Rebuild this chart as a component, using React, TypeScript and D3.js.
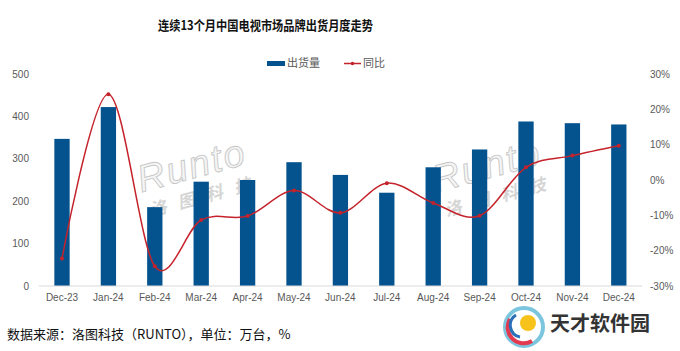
import * as d3 from 'd3';
import React from 'react';

const months = ['Dec-23', 'Jan-24', 'Feb-24', 'Mar-24', 'Apr-24', 'May-24', 'Jun-24', 'Jul-24', 'Aug-24', 'Sep-24', 'Oct-24', 'Nov-24', 'Dec-24'];
const shipments = [347, 422, 186, 246, 250, 292, 262, 220, 280, 322, 388, 384, 381];
const yoy = [-22.2, 24.3, -24.4, -11.3, -10.2, -3.0, -9.3, -0.9, -6.5, -10.1, 3.6, 6.9, 9.7];
const leftTicks = [0, 100, 200, 300, 400, 500];
const rightTicks = [-30, -20, -10, 0, 10, 20, 30];

const W = 680;
const H = 351;
const margin = { top: 74, right: 38, bottom: 65, left: 38.8 };

const barColor = '#04538e';
const lineColor = '#c5232b';
const axisFont = '"Liberation Sans", Arial, sans-serif';
const cjkFont = '"Noto Sans CJK SC", sans-serif';

const App = () => {
  const x = d3
    .scaleBand()
    .domain(months)
    .range([margin.left, W - margin.right]);
  const yLeft = d3
    .scaleLinear()
    .domain([0, 500])
    .range([H - margin.bottom, margin.top]);
  const yRight = d3
    .scaleLinear()
    .domain([-30, 30])
    .range([H - margin.bottom, margin.top]);

  const barW = x.bandwidth() * 0.33;
  const cx = (m: string) => (x(m) as number) + x.bandwidth() / 2;

  // excel style smooth line
  const line = d3
    .line<number>()
    .x((d, i) => cx(months[i]))
    .y(d => yRight(d))
    .curve(d3.curveCardinal.tension(0));

  const baseY = yLeft(0);

  return (
    <svg width={W} height={H} style={{ position: 'absolute', left: 0, top: 0, background: '#fff' }}>
      <text x={158} y={30} textLength={215} lengthAdjust="spacingAndGlyphs" fontFamily={cjkFont}
        fontWeight="bold" fontSize={13} fill="#111">
        连续13个月中国电视市场品牌出货月度走势
      </text>

      {/* legend */}
      <g fontFamily={cjkFont} fontSize={11} fill="#595959">
        <rect x={267} y={61} width={18} height={5} fill={barColor} />
        <text x={287} y={67}>出货量</text>
        <line x1={344} x2={361} y1={63.5} y2={63.5} stroke={lineColor} strokeWidth={1.5} />
        <circle cx={352.5} cy={63.5} r={1.8} fill={lineColor} />
        <text x={363} y={67}>同比</text>
      </g>

      {/* watermarks */}
      {[195, 490].map((wx, i) => (
        <g key={i} transform={`translate(${wx},178) rotate(-15)`} opacity={0.7}>
          <text x={0} y={0} textAnchor="middle" fontFamily={axisFont} fontStyle="italic" fontSize={38}
            fill="#f2f2f2" stroke="#b0b0b0" strokeWidth={0.9} letterSpacing={2}>
            Runto
          </text>
          <text x={6} y={26} textAnchor="middle" fontFamily={cjkFont} fontWeight="bold" fontStyle="italic"
            fontSize={17} fill="#c4c4c4" letterSpacing={12}>
            洛图科技
          </text>
        </g>
      ))}

      {/* bars */}
      {shipments.map((v, i) => (
        <rect
          key={months[i]}
          x={cx(months[i]) - barW / 2}
          y={yLeft(v)}
          width={barW}
          height={baseY - yLeft(v)}
          fill={barColor}
        />
      ))}

      {/* x axis */}
      <line x1={margin.left} x2={W - margin.right} y1={baseY} y2={baseY} stroke="#d9d9d9" strokeWidth={1} />
      <g fontFamily={axisFont} fontSize={10} fill="#595959">
        {months.map(m => (
          <text key={m} x={cx(m)} y={301} textAnchor="middle">
            {m}
          </text>
        ))}
        {leftTicks.map(t => (
          <text key={t} x={29} y={yLeft(t) + 3.5} textAnchor="end">
            {t}
          </text>
        ))}
        {rightTicks.map(t => (
          <text key={t} x={650} y={yRight(t) + 3.5} textAnchor="start">
            {t + '%'}
          </text>
        ))}
      </g>

      {/* yoy line */}
      <path d={line(yoy) || ''} fill="none" stroke={lineColor} strokeWidth={1.5} />
      {yoy.map((v, i) => (
        <circle key={months[i]} cx={cx(months[i])} cy={yRight(v)} r={2} fill={lineColor} />
      ))}

      {/* footer */}
      <text x={7} y={339} fontFamily={cjkFont} fontSize={13} fill="#111">
        数据来源：洛图科技（RUNTO），单位：万台，%
      </text>

      {/* site logo */}
      <g transform="translate(524,327)">
        <circle r={19} fill="none" stroke="#5bb7d6" strokeWidth={4} opacity={0.8} />
        <path d="M -14 -8 A 16 16 0 0 0 8 14" fill="none" stroke="#e43a4f" strokeWidth={4} />
        <path d="M -8 -12 A 12 12 0 0 0 -4 10" fill="none" stroke="#2a6fb8" strokeWidth={3} />
        <circle cx={4} cy={-4} r={8} fill="#f7c21a" />
      </g>
      <text x={550} y={331} fontFamily={cjkFont} fontWeight="bold" fontSize={20} fill="#333">
        天才软件园
      </text>
    </svg>
  );
};

export default App;
